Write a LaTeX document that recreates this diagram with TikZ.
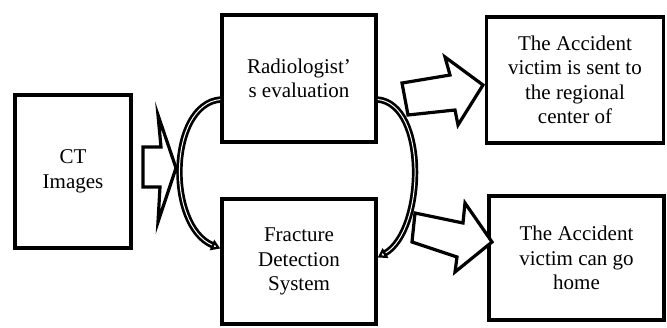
\documentclass[tikz,border=0pt]{standalone}
\usepackage{fontspec}
\setmainfont{Liberation Serif}
\usepackage{tikz}
\usetikzlibrary{arrows.meta}

\begin{document}
\begin{tikzpicture}[x=1pt,y=-1pt,
  box/.style={draw, line width=3.5pt, align=center, inner sep=0pt,
    font=\fontsize{21}{24.5}\selectfont},
  hollow/.style={draw, line width=3.2pt, fill=white},
  curvearrow/.style={line width=2.7pt, double=white, double distance=1pt,
    -{Triangle[open, length=9pt, width=11pt]}}]

\useasboundingbox (0,0) rectangle (667,327);

\node[box, minimum width=116pt, minimum height=153pt] (ct) at (73,171.5) {CT\\Images};
\node[box, minimum width=154pt, minimum height=127pt] (rad) at (299,78.5) {Radiologist’\\s evaluation};
\node[box, minimum width=154pt, minimum height=125pt] (fds) at (299,261.5) {Fracture\\Detection\\System};
\node[box, minimum width=177pt, minimum height=126pt] (sent) at (575,80) {The Accident\\victim is sent to\\the regional\\center of};
\node[box, minimum width=175pt, minimum height=124pt] (home) at (576.5,258) {The Accident\\victim can go\\home};

% block arrows
\draw[hollow] (143,147) -- (161,147) -- (158,115) -- (176,168) -- (158,222) -- (160,187) -- (143,187) -- cycle;
\draw[hollow] (402,83) -- (450,75) -- (445,57) -- (483,85) -- (458,125) -- (455,110) -- (408,115) -- cycle;
\draw[hollow] (415,213) -- (463,223) -- (465,203) -- (492,242) -- (455,272) -- (457,257) -- (412,242) -- cycle;

% curved arrows
\draw[curvearrow] ([yshift=-21pt]rad.west) .. controls +(-52,5) and +(-54,-23) .. ([yshift=13pt]fds.west);
\draw[curvearrow] ([yshift=-21pt]rad.east) .. controls +(50,5) and +(47,-27) .. ([yshift=4pt]fds.east);

\end{tikzpicture}
\end{document}
